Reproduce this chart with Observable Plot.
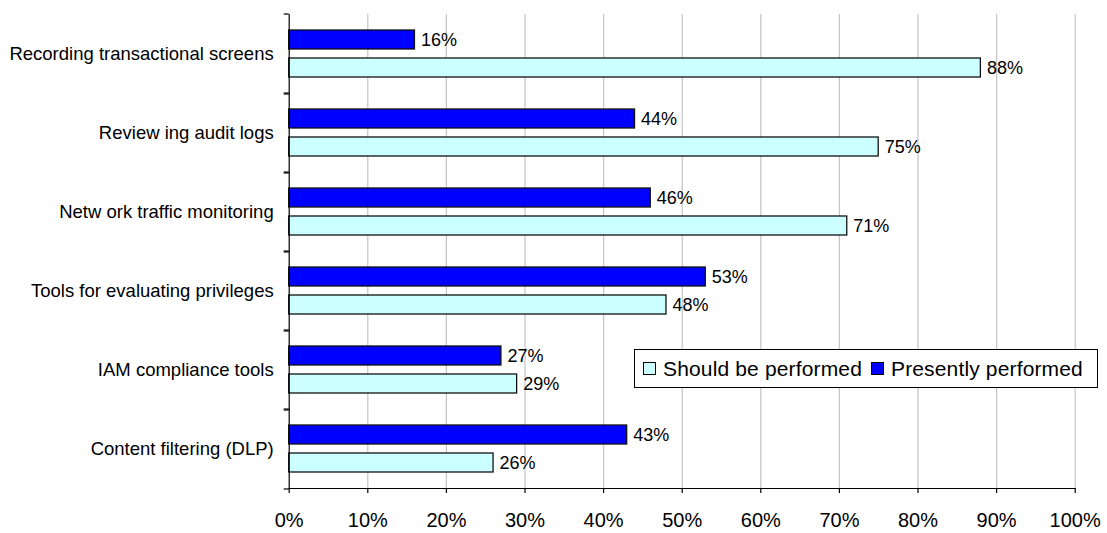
<!DOCTYPE html>
<html>
<head>
<meta charset="utf-8">
<script src="https://cdn.jsdelivr.net/npm/d3@7"></script>
<script src="https://cdn.jsdelivr.net/npm/@observablehq/plot@0.6"></script>
<style>
  html, body { margin: 0; padding: 0; background: #fff; }
  #chart { position: relative; width: 1107px; height: 533px; font-family: "Liberation Sans", Arial, sans-serif; }
  #chart svg { display: block; }
  .legend {
    position: absolute; left: 634px; top: 349px; width: 462px; height: 37px;
    border: 1px solid #000; background: #fff; box-sizing: content-box;
    display: flex; align-items: center; font-size: 21px; letter-spacing: 0.15px; color: #000; white-space: nowrap;
  }
  .legend .item { display: flex; align-items: center; }
  .legend .sw { width: 11px; height: 11px; border: 1px solid #000; margin-right: 7px; }
</style>
</head>
<body>
<div id="chart"></div>
<script>
// Activities, top to bottom
const categories = [
  "Recording transactional screens",
  "Review ing audit logs",
  "Netw ork traffic monitoring",
  "Tools for evaluating privileges",
  "IAM compliance tools",
  "Content filtering (DLP)"
];
// Series (upper bar, lower bar within each activity)
const series = ["Presently performed", "Should be performed"];
const seriesColors = ["#0000ff", "#ccffff"];
// Share of respondents, in percent
const presentlyPerformed = [16, 44, 46, 53, 27, 43];
const shouldBePerformed = [88, 75, 71, 48, 29, 26];
// Order of entries in the legend
const legendOrder = ["Should be performed", "Presently performed"];
const xTicks = [0, 10, 20, 30, 40, 50, 60, 70, 80, 90, 100];

const rows = categories.flatMap((c, i) => [
  {category: c, series: series[0], value: presentlyPerformed[i]},
  {category: c, series: series[1], value: shouldBePerformed[i]}
]);

const W = 1107, H = 533;
const mTop = 11, mBottom = 42.3;
const bandHalf = (H - mTop - mBottom) / categories.length / 2;

const chart = Plot.plot({
  width: W,
  height: H,
  marginLeft: 288.7,
  marginRight: 32.3,
  marginTop: mTop,
  marginBottom: mBottom,
  style: {fontFamily: "'Liberation Sans', Arial, sans-serif", color: "#000", background: "#fff"},
  x: {domain: [0, 100]},
  fy: {domain: categories, padding: 0, axis: null, label: null},
  y: {domain: series, paddingInner: 0.315, paddingOuter: 0.527, axis: null, label: null},
  color: {domain: series, range: seriesColors},
  marks: [
    Plot.gridX(xTicks.slice(1), {stroke: "#c4c4c4", strokeOpacity: 1, strokeWidth: 1.2}),
    Plot.barX(rows, {
      x: "value", y: "series", fy: "category", fill: "series",
      stroke: "#111", strokeWidth: 1.3
    }),
    Plot.text(rows, {
      x: "value", y: "series", fy: "category",
      text: d => `${d.value}%`, textAnchor: "start", dx: 6, fontSize: 18, fill: "#000"
    }),
    // category axis: labels centred on each band, ticks on the band edges
    Plot.axisFy({anchor: "left", tickSize: 0, tickPadding: 15.5, fontSize: 18.5, label: null}),
    Plot.axisFy({anchor: "left", tickSize: 5, text: null, label: null, dy: -bandHalf, strokeWidth: 1.2}),
    Plot.axisFy([categories[categories.length - 1]], {anchor: "left", tickSize: 5, text: null, label: null, dy: bandHalf, strokeWidth: 1.2}),
    Plot.frame({anchor: "left", stroke: "#000", strokeWidth: 1.2}),
    // value axis along the bottom
    Plot.frame({anchor: "bottom", facetAnchor: "bottom", stroke: "#000", strokeWidth: 1.2}),
    Plot.axisX(xTicks, {
      anchor: "bottom", facetAnchor: "bottom", tickSize: 5, tickPadding: 19,
      tickFormat: d => `${d}%`, fontSize: 20, label: null, strokeWidth: 1.2
    })
  ]
});

const root = document.getElementById("chart");
root.appendChild(chart);

// Legend box drawn over the plot area
const legend = document.createElement("div");
legend.className = "legend";
legendOrder.forEach((name, i) => {
  const item = document.createElement("div");
  item.className = "item";
  item.style.marginLeft = i === 0 ? "8px" : "9px";
  const sw = document.createElement("span");
  sw.className = "sw";
  sw.style.background = seriesColors[series.indexOf(name)];
  const label = document.createElement("span");
  label.textContent = name;
  item.append(sw, label);
  legend.appendChild(item);
});
root.appendChild(legend);
</script>
</body>
</html>
